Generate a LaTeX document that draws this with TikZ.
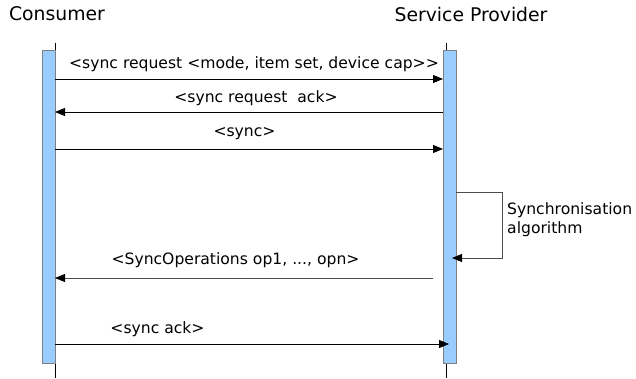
\documentclass[tikz,border=0pt]{standalone}
\usepackage{fontspec}
\setmainfont{DejaVu Sans}
\usetikzlibrary{arrows.meta}
\definecolor{barblue}{HTML}{99CCFF}
\definecolor{bargray}{HTML}{808080}
\begin{document}
\begin{tikzpicture}[x=1pt,y=-1pt,
  title/.style={font=\fontsize{18.8}{21}\selectfont, inner sep=0pt},
  lbl/.style={font=\fontsize{15.6}{18.5}\selectfont, inner sep=0pt},
  life/.style={draw=black, line width=0.8pt},
  actbar/.style={draw=bargray, fill=barblue, line width=0.8pt, minimum width=13pt, minimum height=313pt, inner sep=0pt},
  msg/.style={draw=black, line width=0.8pt, -{Triangle[length=10pt,width=8pt]}},
  graymsg/.style={draw=black!70, line width=0.8pt, -{Triangle[length=10pt,width=8pt,color=black]}}
]
\useasboundingbox (0,0) rectangle (636,379);
% titles
\node[title] (cons) at (57,14) {Consumer};
\node[title] (prov) at (471,14) {Service Provider};
% lifelines
\coordinate (ctop) at (55,43);
\coordinate (cbot) at (55,378);
\coordinate (ptop) at (446,43);
\coordinate (pbot) at (446,378);
\draw[life] (ctop) -- (cbot);
\draw[life] (ptop) -- (pbot);
% activation bars
\node[actbar] (cbar) at (48.5,206.5) {};
\node[actbar] (pbar) at (449.5,206.5) {};
% message end points
\coordinate (c1) at (55,79);   \coordinate (p1) at (443,79);
\coordinate (c2) at (55,112);  \coordinate (p2) at (443,112);
\coordinate (c3) at (55,149);  \coordinate (p3) at (443,149);
\coordinate (s1) at (456,192); \coordinate (s2) at (502,192);
\coordinate (s3) at (502,258); \coordinate (s4) at (452,258);
\coordinate (c5) at (55,278);  \coordinate (p5) at (433,278);
\coordinate (c6) at (55,344);  \coordinate (p6) at (449,344);
% messages
\draw[msg] (c1) -- (p1);
\node[lbl] (l1) at (254,64) {<sync request <mode, item set, device cap{>}{>}};
\draw[msg] (p2) -- (c2);
\node[lbl] (l2) at (256,98) {<sync request\ \ ack>};
\draw[msg] (c3) -- (p3);
\node[lbl] (l3) at (244.5,134) {<sync>};
\draw[graymsg] (s1) -- (s2) -- (s3) -- (s4);
\node[lbl, anchor=west, align=left] (l4) at (507,219.5) {Synchronisation\\algorithm};
\draw[graymsg] (p5) -- (c5);
\node[lbl] (l5) at (235.5,260) {<SyncOperations op1, ..., opn>};
\draw[msg] (c6) -- (p6);
\node[lbl] (l6) at (157.5,329) {<sync ack>};
\end{tikzpicture}
\end{document}
